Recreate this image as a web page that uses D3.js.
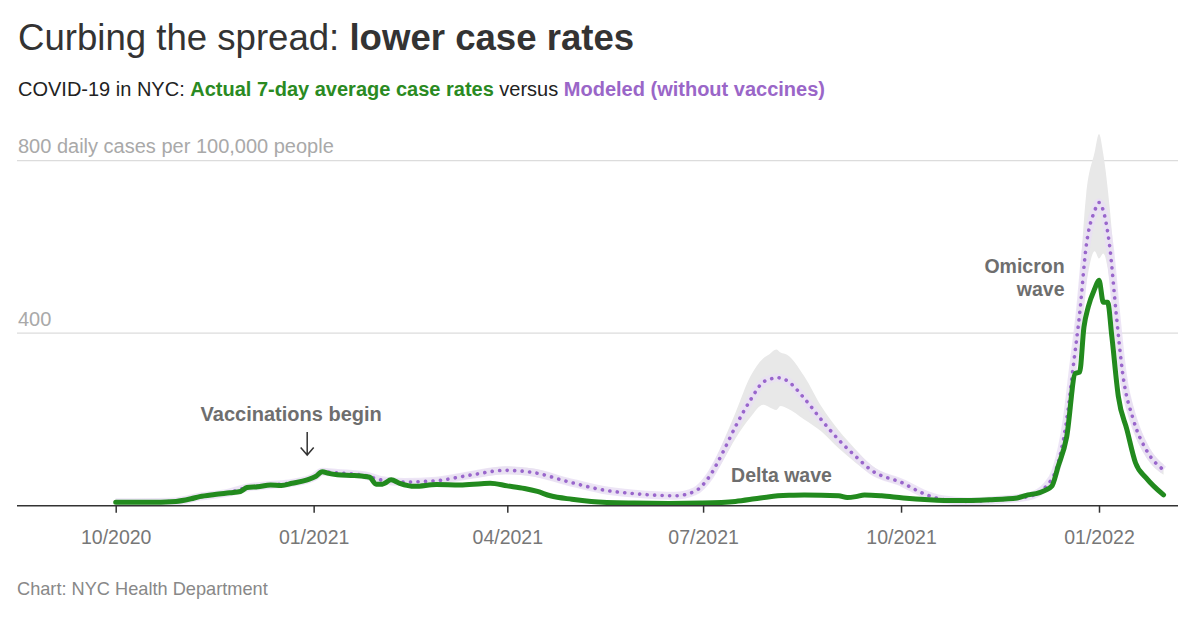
<!DOCTYPE html>
<html lang="en">
<head>
    <meta charset="UTF-8">
    <script src="https://d3js.org/d3.v7.min.js"></script>
    <style>
        body {
            margin: 0;
            background-color: #fff;
            font-family: "Liberation Sans", Arial, sans-serif;
        }
        svg text {
            font-family: "Liberation Sans", Arial, sans-serif;
        }
    </style>
</head>
<body>

    <div id="chart"></div>

    <script>
        // ---- data (daily cases per 100,000) ----
        const actualDates = [
            "2020-10-01", "2020-10-15", "2020-10-29", "2020-11-05", "2020-11-09", "2020-11-16",
            "2020-11-23", "2020-11-28", "2020-12-01", "2020-12-06", "2020-12-12", "2020-12-17",
            "2020-12-22", "2020-12-29", "2021-01-02", "2021-01-05", "2021-01-08", "2021-01-12",
            "2021-01-20", "2021-01-27", "2021-01-30", "2021-02-02", "2021-02-03", "2021-02-06",
            "2021-02-10", "2021-02-17", "2021-02-27", "2021-03-10", "2021-03-20", "2021-03-24",
            "2021-04-01", "2021-04-09", "2021-04-15", "2021-04-21", "2021-05-01", "2021-05-10",
            "2021-05-30", "2021-06-15", "2021-06-30", "2021-07-16", "2021-07-25", "2021-08-01",
            "2021-08-10", "2021-08-17", "2021-09-02", "2021-09-06", "2021-09-10", "2021-09-14",
            "2021-09-22", "2021-10-02", "2021-10-14", "2021-10-26", "2021-11-11", "2021-11-24",
            "2021-11-29", "2021-12-04", "2021-12-10", "2021-12-13", "2021-12-17", "2021-12-21",
            "2021-12-23", "2021-12-25", "2021-12-27", "2021-12-30", "2022-01-01", "2022-01-03",
            "2022-01-05", "2022-01-07", "2022-01-10", "2022-01-14", "2022-01-18", "2022-01-23",
            "2022-01-31"
        ];
        const actualValues = [
            8, 8, 10, 16, 21, 26,
            30, 33, 42, 44, 48, 47,
            52, 60, 68, 79, 75, 72,
            70, 66, 50, 50, 52, 60,
            52, 45, 49, 48, 51, 52,
            46, 40, 33, 23, 15, 10,
            6, 5, 6, 10, 16, 21,
            24, 25, 23, 19, 21, 25,
            23, 18, 14, 12, 14, 18,
            25, 30, 45, 91, 160, 307,
            310, 414, 461, 503, 523, 472,
            472, 391, 253, 176, 99, 64,
            25
        ];

        const modeledDates = [
            "2020-10-01", "2020-10-29", "2020-11-09", "2020-11-23", "2020-12-01", "2020-12-12",
            "2020-12-22", "2021-01-01", "2021-01-05", "2021-01-12", "2021-01-25", "2021-02-01",
            "2021-02-12", "2021-02-27", "2021-03-16", "2021-03-31", "2021-04-13", "2021-04-29",
            "2021-05-15", "2021-05-30", "2021-06-18", "2021-06-27", "2021-07-04", "2021-07-10",
            "2021-07-16", "2021-07-23", "2021-07-29", "2021-08-01", "2021-08-04", "2021-08-06",
            "2021-08-09", "2021-08-17", "2021-08-25", "2021-09-02", "2021-09-10", "2021-09-17",
            "2021-10-02", "2021-10-11", "2021-10-20", "2021-11-01", "2021-11-16", "2021-11-29",
            "2021-12-08", "2021-12-12", "2021-12-17", "2021-12-20", "2021-12-23", "2021-12-26",
            "2021-12-30", "2022-01-01", "2022-01-03", "2022-01-06", "2022-01-09", "2022-01-12",
            "2022-01-17", "2022-01-23", "2022-01-31"
        ];
        const modeledValues = [
            8, 10, 21, 31, 42, 48,
            53, 66, 79, 76, 70, 60,
            55, 58, 72, 82, 77, 56,
            37, 28, 23, 33, 68, 122,
            183, 245, 287, 293, 297, 296,
            290, 249, 199, 153, 114, 83,
            52, 29, 15, 10, 14, 21,
            48, 83, 199, 322, 445, 600,
            684, 703, 684, 600, 445, 307,
            199, 129, 83
        ];
        const modeledLow = [
            7, 9, 19, 28, 39, 44,
            49, 60, 72, 69, 63, 54,
            49, 52, 64, 73, 68, 49,
            32, 24, 20, 28, 58, 102,
            155, 205, 234, 228, 222, 231,
            226, 200, 172, 133, 99, 73,
            45, 25, 13, 9, 12, 19,
            43, 74, 175, 280, 385, 510,
            590, 573, 585, 520, 390, 270,
            175, 112, 72
        ];
        const modeledHigh = [
            9, 11, 23, 34, 46, 52,
            58, 72, 86, 83, 77, 66,
            61, 65, 80, 91, 86, 63,
            42, 32, 27, 38, 80, 145,
            215, 300, 342, 352, 362, 355,
            350, 300, 230, 175, 130, 95,
            58, 33, 17, 12, 16, 24,
            53, 93, 225, 370, 525, 720,
            820, 862, 815, 690, 510, 350,
            228, 148, 96
        ];

        const yTicks = [400, 800];
        const yTickLabels = ["400", "800 daily cases per 100,000 people"];
        const xTickDates = ["2020-10-01", "2021-01-01", "2021-04-01", "2021-07-01", "2021-10-01", "2022-01-01"];
        const xTickLabels = ["10/2020", "01/2021", "04/2021", "07/2021", "10/2021", "01/2022"];

        // ---- layout ----
        const W = 1200, H = 617;
        const plotLeft = 17, plotRight = 1178;
        const parse = d3.utcParse("%Y-%m-%d");

        const svg = d3.select("#chart")
            .append("svg")
            .attr("width", W)
            .attr("height", H);

        svg.append("rect").attr("width", W).attr("height", H).attr("fill", "#fff");

        const x = d3.scaleUtc()
            .domain([parse("2020-10-01"), parse("2022-01-01")])
            .range([115.7, 1099]);

        const y = d3.scaleLinear()
            .domain([0, 800])
            .range([505.7, 160.7]);

        const actual = actualDates.map((d, i) => ({ date: parse(d), v: actualValues[i] }));
        const modeled = modeledDates.map((d, i) => ({
            date: parse(d), v: modeledValues[i], lo: modeledLow[i], hi: modeledHigh[i]
        }));

        // title
        const title = svg.append("text")
            .attr("x", 18).attr("y", 50)
            .style("font-size", "36.6px")
            .attr("fill", "#333");
        title.append("tspan").text("Curbing the spread: ");
        title.append("tspan").style("font-weight", "bold").text("lower case rates");

        const sub = svg.append("text")
            .attr("x", 18).attr("y", 96)
            .style("font-size", "20px")
            .attr("fill", "#222");
        sub.append("tspan").text("COVID-19 in NYC: ");
        sub.append("tspan").style("font-weight", "bold").attr("fill", "#2a8a22").text("Actual 7-day average case rates");
        sub.append("tspan").text(" versus ");
        sub.append("tspan").style("font-weight", "bold").attr("fill", "#9a66c8").text("Modeled (without vaccines)");

        // gridlines
        svg.selectAll(".grid")
            .data(yTicks)
            .enter()
            .append("line")
            .attr("class", "grid")
            .attr("x1", plotLeft).attr("x2", plotRight)
            .attr("y1", d => y(d)).attr("y2", d => y(d))
            .attr("stroke", "#dcdcdc")
            .attr("stroke-width", 1.2);

        svg.selectAll(".gridlabel")
            .data(yTicks)
            .enter()
            .append("text")
            .attr("class", "gridlabel")
            .attr("x", 18)
            .attr("y", d => y(d) - 7.5)
            .style("font-size", "20px")
            .attr("fill", "#a9a9a9")
            .text((d, i) => yTickLabels[i]);

        // modeled uncertainty band
        const area = d3.area()
            .x(d => x(d.date))
            .y0(d => y(d.lo))
            .y1(d => y(d.hi))
            .curve(d3.curveMonotoneX);

        svg.append("path")
            .datum(modeled)
            .attr("d", area)
            .attr("fill", "#e8e8e8");

        const line = d3.line()
            .x(d => x(d.date))
            .y(d => y(d.v))
            .curve(d3.curveMonotoneX);

        // faint halo + dotted modeled line
        svg.append("path")
            .datum(modeled)
            .attr("d", line)
            .attr("fill", "none")
            .attr("stroke", "#e9def4")
            .attr("stroke-opacity", 0.8)
            .attr("stroke-width", 8);

        svg.append("path")
            .datum(modeled)
            .attr("d", line)
            .attr("fill", "none")
            .attr("stroke", "#9966cc")
            .attr("stroke-width", 3.6)
            .attr("stroke-linecap", "round")
            .attr("stroke-dasharray", "0.1 7.4");

        // actual line
        svg.append("path")
            .datum(actual)
            .attr("d", line)
            .attr("fill", "none")
            .attr("stroke", "#228a1e")
            .attr("stroke-width", 5)
            .attr("stroke-linejoin", "round")
            .attr("stroke-linecap", "round");

        // x axis
        const xAxis = svg.append("g")
            .attr("transform", `translate(0,${y(0)})`)
            .call(d3.axisBottom(x)
                .tickValues(xTickDates.map(parse))
                .tickFormat((d, i) => xTickLabels[i])
                .tickSize(7)
                .tickPadding(17)
                .tickSizeOuter(0));
        xAxis.select(".domain").remove();
        xAxis.selectAll(".tick line").attr("stroke", "#333").attr("stroke-width", 1.5);
        xAxis.selectAll(".tick text")
            .style("font-size", "19.5px")
            .attr("fill", "#777");

        svg.append("line")
            .attr("x1", plotLeft).attr("x2", plotRight)
            .attr("y1", y(0)).attr("y2", y(0))
            .attr("stroke", "#333")
            .attr("stroke-width", 1.5);

        // annotations
        const vacc = parse("2020-12-29");
        svg.append("text")
            .attr("x", x(vacc) - 16)
            .attr("y", 420.7)
            .attr("text-anchor", "middle")
            .style("font-size", "20px")
            .style("font-weight", "bold")
            .attr("fill", "#6e6e6e")
            .text("Vaccinations begin");

        const ax = x(vacc);
        svg.append("path")
            .attr("d", `M${ax},432 L${ax},455 M${ax - 6.5},447.5 L${ax},455 L${ax + 6.5},447.5`)
            .attr("fill", "none")
            .attr("stroke", "#333")
            .attr("stroke-width", 1.5);

        svg.append("text")
            .attr("x", x(parse("2021-07-14")))
            .attr("y", y(56))
            .style("font-size", "19.5px")
            .style("font-weight", "bold")
            .attr("fill", "#6e6e6e")
            .text("Delta wave");

        const omi = svg.append("text")
            .attr("text-anchor", "end")
            .style("font-size", "19.5px")
            .style("font-weight", "bold")
            .attr("fill", "#6e6e6e");
        omi.append("tspan").attr("x", x(parse("2021-12-16"))).attr("y", y(539)).text("Omicron");
        omi.append("tspan").attr("x", x(parse("2021-12-16"))).attr("y", y(486)).text("wave");

        // footer
        svg.append("text")
            .attr("x", 17).attr("y", 595)
            .style("font-size", "18.2px")
            .attr("fill", "#888")
            .text("Chart: NYC Health Department");
    </script>

</body>
</html>
